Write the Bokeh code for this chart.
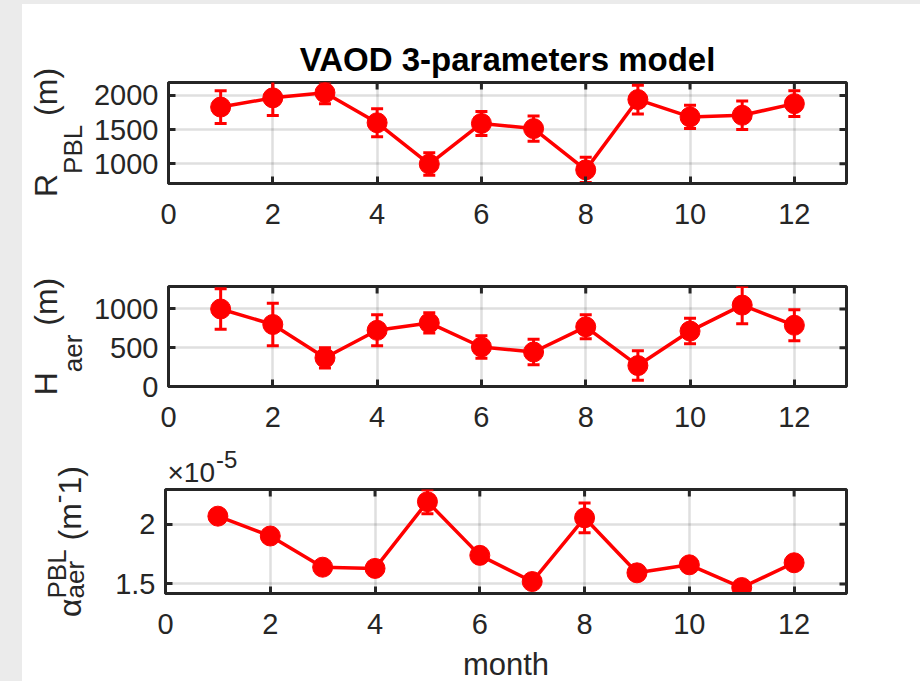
import math

from bokeh.embed import file_html
from bokeh.layouts import column, row
from bokeh.models import ColumnDataSource, FixedTicker, Label, Range1d, Spacer
from bokeh.plotting import figure
from bokeh.resources import INLINE

# ---------------------------------------------------------------- data
months = list(range(1, 13))
x_ticks = [0, 2, 4, 6, 8, 10, 12]
x_limits = (0, 13)

# PBL top height R_PBL (m) and its uncertainty
r_pbl = [1830, 1965, 2040, 1600, 995, 1590, 1515, 910, 1940, 1685, 1710, 1880]
r_pbl_err = [240, 260, 160, 205, 165, 175, 185, 185, 210, 170, 210, 190]
r_pbl_ticks = [1000, 1500, 2000]
r_pbl_limits = (710, 2190)

# aerosol scale height H_aer (m) and its uncertainty
h_aer = [1000, 800, 370, 725, 820, 510, 445, 770, 270, 715, 1050, 790]
h_aer_err = [260, 275, 130, 200, 130, 145, 165, 155, 190, 165, 240, 200]
h_aer_ticks = [0, 500, 1000]
h_aer_limits = (0, 1290)

# aerosol extinction in the PBL, in units of 1e-5 m^-1
alpha_aer = [2.067, 1.901, 1.640, 1.630, 2.188, 1.739, 1.520, 2.053, 1.593, 1.660, 1.470, 1.677]
alpha_aer_err = [0.03, 0.03, 0.03, 0.03, 0.10, 0.03, 0.03, 0.125, 0.03, 0.03, 0.03, 0.03]
alpha_ticks = [1.5, 2]
alpha_limits = (1.42, 2.29)

title_text = "VAOD 3-parameters model"
x_label = "month"

# ---------------------------------------------------------------- style
FONT = "Liberation Sans"
INK = "#262626"
RED = "#ff0000"
PAPER = "#ebebeb"
TICK_PX = "29px"
LABEL_PX = 32
SUB_PX = 26
XLABEL_PX = 31
MID = 0.35             # distance from baseline to text middle, in em

LEFT_STRIP = 22        # grey page edge on the left
LABEL_W = 68           # column holding the rotated y labels
PLOT_W = 920 - LEFT_STRIP - LABEL_W
PLOT_X0 = LEFT_STRIP + LABEL_W
BORDER_L, BORDER_R = 75, 74

# Arial advance widths (per em) used to lay out multi-part labels
ADV = {" ": .278, "(": .333, ")": .333, "-": .333, "1": .556, "P": .667, "B": .667,
       "L": .556, "R": .722, "H": .722, "a": .556, "e": .556, "r": .333, "m": .833,
       "\u03b1": .578, "\u00d7": .584}


def text_width(s, size):
    return sum(ADV.get(c, .556) for c in s) * size


def style_axis(ax, ticks):
    ax.ticker = FixedTicker(ticks=ticks)
    ax.axis_line_color = INK
    ax.axis_line_width = 3
    ax.major_tick_line_color = INK
    ax.major_tick_line_width = 3
    ax.major_tick_in = 7
    ax.major_tick_out = 0
    ax.minor_tick_line_color = None
    ax.major_label_text_font = FONT
    ax.major_label_text_color = INK
    ax.major_label_text_font_size = TICK_PX


def make_panel(vals, errs, ylim, y_ticks, height, top, bottom):
    p = figure(width=PLOT_W, height=height, x_range=Range1d(*x_limits), y_range=Range1d(*ylim),
               output_backend="svg", toolbar_location=None, frame_align=False,
               min_border_left=BORDER_L, min_border_right=BORDER_R,
               min_border_top=top, min_border_bottom=bottom,
               background_fill_color="white", border_fill_color="white",
               outline_line_color=INK, outline_line_width=3)
    style_axis(p.xaxis[0], x_ticks)
    style_axis(p.yaxis[0], y_ticks)
    p.xaxis[0].major_label_standoff = 20
    p.yaxis[0].major_label_standoff = 10
    p.grid.grid_line_color = INK
    p.grid.grid_line_alpha = 0.15
    p.grid.grid_line_width = 2.5

    # inward ticks on the top and right edges of the box
    p.scatter(x_ticks, [ylim[1]] * len(x_ticks), marker="dash", angle=math.pi / 2,
              size=14, line_color=INK, line_width=3)
    p.scatter([x_limits[1]] * len(y_ticks), y_ticks, marker="dash",
              size=14, line_color=INK, line_width=3)

    src = ColumnDataSource(dict(
        month=months, val=vals,
        lo=[v - e for v, e in zip(vals, errs)],
        hi=[v + e for v, e in zip(vals, errs)],
    ))
    p.segment(x0="month", y0="lo", x1="month", y1="hi", source=src,
              line_color=RED, line_width=3)
    for end in ("lo", "hi"):
        p.scatter("month", end, source=src, marker="dash", size=12,
                  line_color=RED, line_width=3)
    p.line("month", "val", source=src, line_color=RED, line_width=3.5)
    p.scatter("month", "val", source=src, marker="circle", size=20,
              fill_color=RED, line_color=RED)
    return p


def text_strip(width, height, x0):
    """Blank canvas whose x data coordinate equals the page pixel column
    and whose y data coordinate counts pixels up from its bottom edge."""
    f = figure(width=width, height=height, x_range=Range1d(x0, x0 + width),
               y_range=Range1d(0, height), x_axis_type=None, y_axis_type=None,
               output_backend="svg", toolbar_location=None, min_border=0,
               frame_align=False, outline_line_color=None,
               background_fill_color="white", border_fill_color="white")
    f.grid.visible = False
    return f


def flat_text(f, x, mid_y, text, size, align="left"):
    """Horizontal text placed by its vertical middle."""
    f.add_layout(Label(x=x, y=mid_y, text=text, text_font=FONT,
                       text_font_size=f"{size}px", text_color=INK,
                       text_align=align, text_baseline="middle"))


def rotated_label(height, groups, y_mid):
    """Vertical label built from groups of (text, size, baseline_x) parts.

    Parts within a group start at the same place; the next group begins
    after the widest part.  The whole label is centred on y_mid.
    """
    f = text_strip(LABEL_W, height, LEFT_STRIP)
    lengths = [max(text_width(t, s) for t, s, _ in g) for g in groups]
    pos = y_mid - sum(lengths) / 2
    for g, length in zip(groups, lengths):
        for t, s, bx in g:
            core = t.strip()
            lead = text_width(t[:len(t) - len(t.lstrip())], s)
            f.add_layout(Label(x=bx - MID * s, y=pos + lead + text_width(core, s) / 2,
                               text=core, angle=math.pi / 2, text_font=FONT,
                               text_font_size=f"{s}px", text_color=INK,
                               text_align="center", text_baseline="middle"))
        pos += length
    return f


# ---------------------------------------------------------------- panel 1
p1 = make_panel(r_pbl, r_pbl_err, r_pbl_limits, r_pbl_ticks, 233, 78, 54)
p1.title.text = title_text
p1.title.align = "center"
p1.title.text_font = FONT
p1.title.text_font_size = "33px"
p1.title.text_font_style = "bold"
p1.title.text_color = "black"
lab1 = rotated_label(233, [[("R", LABEL_PX, 57)], [("PBL", SUB_PX, 82)],
                           [(" (m)", LABEL_PX, 57)]], 54 + 51)

# ---------------------------------------------------------------- panel 2
p2 = make_panel(h_aer, h_aer_err, h_aer_limits, h_aer_ticks, 203, 49, 54)
lab2 = rotated_label(203, [[("H", LABEL_PX, 57)], [("aer", SUB_PX, 82)],
                           [(" (m)", LABEL_PX, 57)]], 54 + 50)

# ---------------------------------------------------------------- panel 3
p3 = make_panel(alpha_aer, alpha_aer_err, alpha_limits, alpha_ticks, 158, 1, 53)
p3.yaxis[0].major_label_overrides = {1.5: "1.5", 2: "2"}

# common exponent of the extinction axis, just above the box
expo = text_strip(PLOT_W, 48, PLOT_X0)
flat_text(expo, 167, 6 + MID * 28, "\u00d710", 28)
flat_text(expo, 167 + text_width("\u00d710", 28) + 1, 21 + MID * 24, "-5", 24)

# x axis title under the bottom panel
xtitle = text_strip(PLOT_W, 35, PLOT_X0)
flat_text(xtitle, PLOT_X0 + BORDER_L + (PLOT_W - BORDER_L - BORDER_R) / 2, 17.5, x_label,
          XLABEL_PX, align="center")

lab3 = rotated_label(241, [[("\u03b1", LABEL_PX, 81)],
                           [("PBL", SUB_PX, 66), ("aer", SUB_PX, 84)],
                           [(" (m", LABEL_PX, 81)], [("-", SUB_PX, 67)],
                           [("1)", LABEL_PX, 81)]], 140)

# ---------------------------------------------------------------- page
edge = Spacer(width=LEFT_STRIP, height=681, margin=0, styles={"background-color": PAPER})
top_edge = Spacer(width=920 - LEFT_STRIP, height=4, margin=0, styles={"background-color": PAPER})
body = column(
    top_edge,
    row(lab1, p1, spacing=0),
    row(lab2, p2, spacing=0),
    row(lab3, column(expo, p3, xtitle, spacing=0), spacing=0),
    spacing=0,
)
layout = row(edge, body, spacing=0)

with open("out.html", "w") as f:
    f.write(file_html(layout, INLINE))
